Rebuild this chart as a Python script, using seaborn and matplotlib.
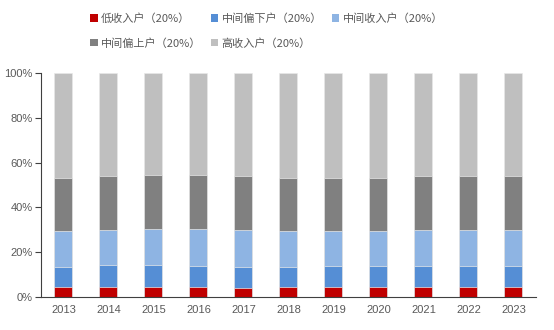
import matplotlib
matplotlib.use("Agg")
import matplotlib.pyplot as plt
import seaborn as sns
import pandas as pd
import numpy as np
from matplotlib.patches import Patch

years = ["2013", "2014", "2015", "2016", "2017", "2018", "2019", "2020", "2021", "2022", "2023"]
# shares (%) of each quintile
low = [4.3, 4.3, 4.3, 4.3, 3.9, 4.3, 4.3, 4.3, 4.3, 4.3, 4.3]
lower_mid = [9.3, 9.8, 9.8, 9.6, 9.6, 9.2, 9.6, 9.6, 9.6, 9.6, 9.6]
mid = [15.9, 15.7, 16.3, 16.4, 16.3, 15.9, 15.5, 15.6, 16.0, 16.0, 16.0]
upper_mid = [23.8, 24.3, 24.2, 24.2, 24.2, 23.7, 23.7, 23.7, 24.2, 24.2, 24.2]
high = [46.7, 45.9, 45.4, 45.5, 46.0, 46.9, 46.9, 46.8, 45.9, 45.9, 45.9]

labels = ["低收入户（20%）", "中间偏下户（20%）", "中间收入户（20%）", "中间偏上户（20%）", "高收入户（20%）"]
colors = ["#C00000", "#558ED5", "#8EB4E3", "#808080", "#BFBFBF"]

series = [low, lower_mid, mid, upper_mid, high]
cum = np.zeros(len(years))
cums = []
for s in series:
    cum = cum + np.array(s)
    cums.append(cum.copy())

sns.set_theme(style="white")
plt.rcParams['font.family'] = ['Noto Sans CJK SC', 'DejaVu Sans']

fig = plt.figure(figsize=(5.54, 3.30), dpi=100)
ax = fig.add_axes([0.074, 0.10, 0.8935, 0.679])

# draw from top layer down so lower layers overlay
for i in range(len(series) - 1, -1, -1):
    d = pd.DataFrame({"year": years, "val": cums[i]})
    sns.barplot(data=d, x="year", y="val", color=colors[i], width=0.4,
                edgecolor="#e8e8e8", linewidth=0.5, saturation=1, ax=ax)

ax.set_xlim(-0.5, len(years) - 0.5)
ax.set_ylim(0, 100)
ax.set_yticks([0, 20, 40, 60, 80, 100])
ax.set_yticklabels([f"{v}%" for v in [0, 20, 40, 60, 80, 100]])
ax.set_xlabel("")
ax.set_ylabel("")
for sp in ["top", "right"]:
    ax.spines[sp].set_visible(False)
for sp in ["left", "bottom"]:
    ax.spines[sp].set_color("#404040")
    ax.spines[sp].set_linewidth(0.8)

ax.set_xticks(np.arange(-0.5, len(years), 1), minor=True)
ax.tick_params(axis="x", which="major", length=0, pad=6, labelsize=8, labelcolor="#595959")
ax.tick_params(axis="x", which="minor", length=5, width=0.8, color="#404040", direction="out")
ax.tick_params(axis="y", length=4, width=0.8, color="#404040", direction="out", labelsize=8,
               labelcolor="#595959", pad=2, left=True)
for t in ax.get_xticklabels() + ax.get_yticklabels():
    t.set_family(["Liberation Sans", "DejaVu Sans"])

handles = [Patch(facecolor=c, edgecolor="none") for c in colors]
order = [0, 3, 1, 4, 2]
fig.legend([handles[i] for i in order], [labels[i] for i in order], ncol=3,
           loc="upper left", bbox_to_anchor=(0.145, 0.99), frameon=False,
           fontsize=8, handlelength=0.65, handleheight=0.65, handletextpad=0.3,
           columnspacing=0.9, labelspacing=1.25, labelcolor="#595959")

fig.savefig("out.png", dpi=100)
